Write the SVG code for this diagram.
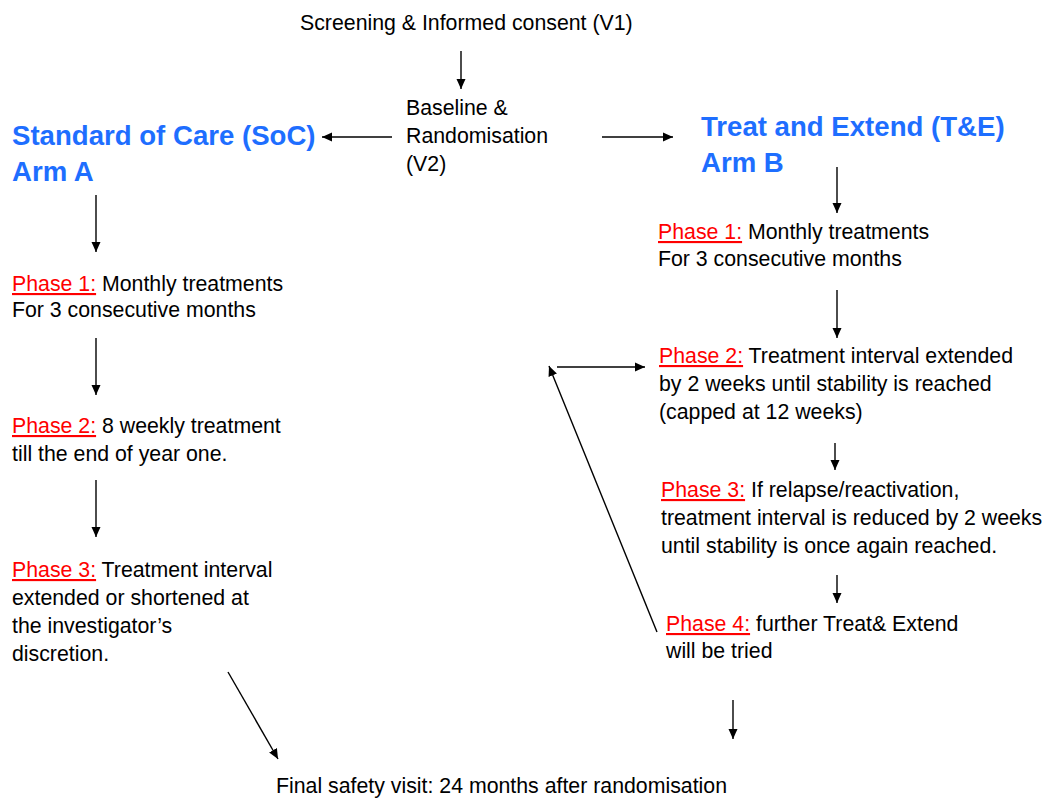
<svg xmlns="http://www.w3.org/2000/svg" width="1049" height="799" viewBox="0 0 1049 799">
<style>
text{font-family:"Liberation Sans",Arial,sans-serif;font-size:21.3px;fill:#000}
.h{font-weight:bold;font-size:27.6px;fill:#1E6EFF}
.p{fill:#FF0000;text-decoration:underline}
.c line{stroke:#000;stroke-width:1.4;marker-end:url(#ah)}
</style>
<defs>
<marker id="ah" markerUnits="userSpaceOnUse" markerWidth="10" markerHeight="10" refX="10" refY="5" orient="auto">
<path d="M0,0.5 L10,5 L0,9.5 z" fill="#000"/>
</marker>
</defs>
<rect width="1049" height="799" fill="#fff"/>
<g class="c" id="connectors">
<line x1="461" y1="51" x2="461" y2="89"/>
<line x1="392" y1="137" x2="322" y2="137"/>
<line x1="602" y1="137" x2="673" y2="137"/>
<line x1="96" y1="195" x2="96" y2="252"/>
<line x1="96" y1="338" x2="96" y2="395"/>
<line x1="96" y1="480" x2="96" y2="537"/>
<line x1="837" y1="167" x2="837" y2="213"/>
<line x1="837" y1="290" x2="837" y2="338"/>
<line x1="557" y1="367" x2="645" y2="367"/>
<line x1="835" y1="443" x2="835" y2="470"/>
<line x1="837" y1="575" x2="837" y2="603"/>
<line x1="657" y1="632" x2="549" y2="366"/>
<line x1="733" y1="700" x2="733" y2="739"/>
<line x1="228" y1="672" x2="278" y2="759"/>
</g>
<g id="screening"><text x="300" y="30">Screening &amp; Informed consent (V1)</text></g>
<g id="baseline"><text x="406" y="115">Baseline &amp;</text><text x="406" y="143">Randomisation</text><text x="406" y="171">(V2)</text></g>
<g id="armA"><text class="h" x="12" y="145">Standard of Care (SoC)</text><text class="h" x="12" y="181">Arm A</text></g>
<g id="armB"><text class="h" x="701" y="136">Treat and Extend (T&amp;E)</text><text class="h" x="701" y="172">Arm B</text></g>
<g id="a1"><text x="12" y="291"><tspan class="p">Phase 1:</tspan> Monthly treatments</text><text x="12" y="317">For 3 consecutive months</text></g>
<g id="a2"><text x="12" y="433"><tspan class="p">Phase 2:</tspan> 8 weekly treatment</text><text x="12" y="461">till the end of year one.</text></g>
<g id="a3"><text x="12" y="577"><tspan class="p">Phase 3:</tspan> Treatment interval</text><text x="12" y="605">extended or shortened at</text><text x="12" y="633">the investigator’s</text><text x="12" y="661">discretion.</text></g>
<g id="b1"><text x="658" y="239"><tspan class="p">Phase 1:</tspan> Monthly treatments</text><text x="658" y="266">For 3 consecutive months</text></g>
<g id="b2"><text x="659" y="363"><tspan class="p">Phase 2:</tspan> Treatment interval extended</text><text x="659" y="391">by 2 weeks until stability is reached</text><text x="659" y="419">(capped at 12 weeks)</text></g>
<g id="b3"><text x="661" y="497"><tspan class="p">Phase 3:</tspan> If relapse/reactivation,</text><text x="661" y="525">treatment interval is reduced by 2 weeks</text><text x="661" y="553">until stability is once again reached.</text></g>
<g id="b4"><text x="666" y="631"><tspan class="p">Phase 4:</tspan> further Treat&amp; Extend</text><text x="666" y="658">will be tried</text></g>
<g id="final"><text x="276" y="793">Final safety visit: 24 months after randomisation</text></g>
</svg>
